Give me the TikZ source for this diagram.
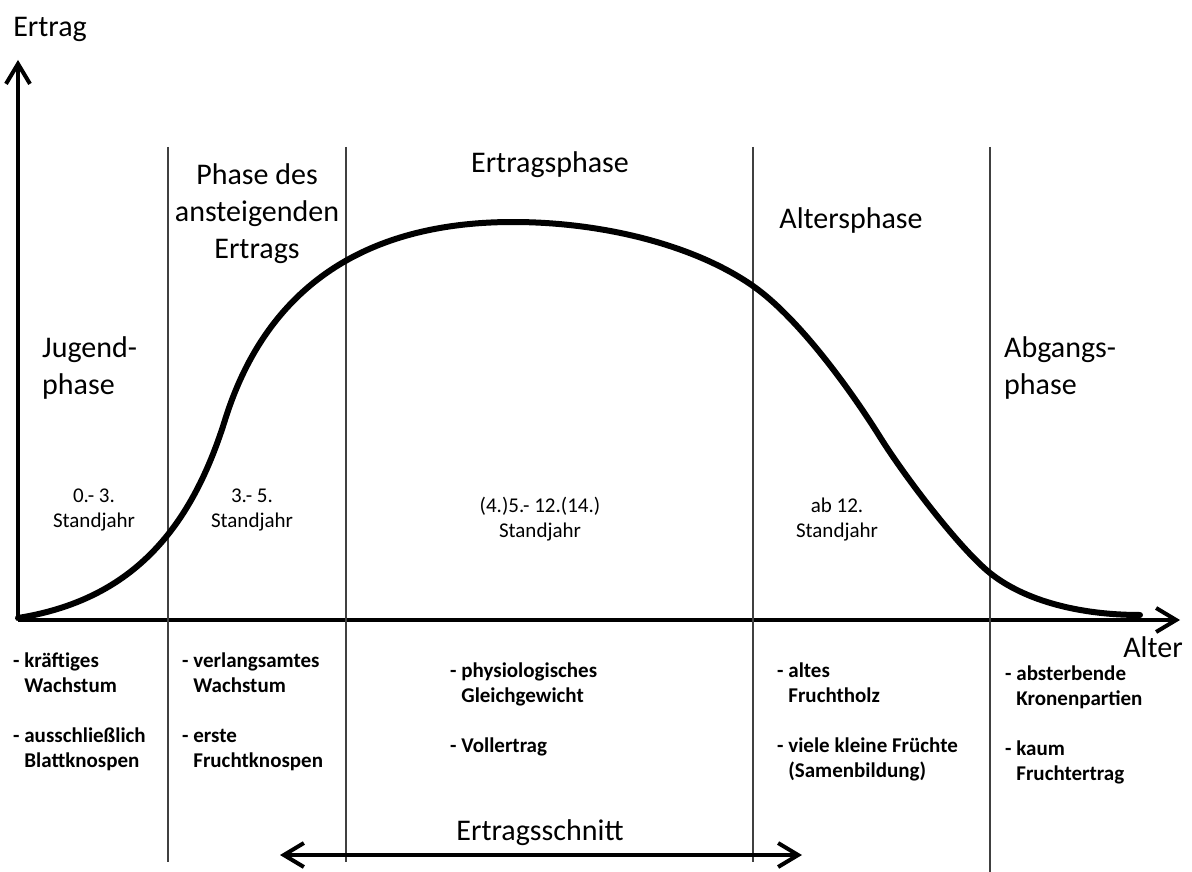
\documentclass[tikz,border=0pt]{standalone}
\usepackage{fontspec}
\setmainfont{Carlito}
\usepackage{tikz}
\usetikzlibrary{arrows.meta}

\tikzset{
    gross/.style={font=\fontsize{30}{37}\selectfont, inner sep=0pt, anchor=base},
    klein/.style={font=\fontsize{21}{25}\selectfont, inner sep=0pt, anchor=base},
    liste/.style={font=\fontsize{21}{25}\selectfont\bfseries, inner sep=0pt, anchor=base west},
    achse/.style={line width=4pt, -{Straight Barb[length=20pt, width=24pt]}},
    grenze/.style={line width=1.5pt, black!75},
}
\newcommand{\ein}{\phantom{-}\ }
\newcommand{\zeilen}[2]{\begin{tabular}[t]{@{}#1@{}}#2\end{tabular}}

\begin{document}
\begin{tikzpicture}[x=1pt, y=-1pt]
            \useasboundingbox (0,0) rectangle (1192,872);
            % axes
            \coordinate (o) at (18,620);
            \coordinate (ytip) at (18,60);
            \coordinate (xtip) at (1180,620);
            \draw[achse] (o) -- (ytip);
            \draw[achse] (o) -- (xtip);
            \node[gross] (ertrag) at (50,37) {Ertrag};
            \node[gross] (alter) at (1153,657) {Alter};
            % phase borders
            \foreach \i/\x in {1/168, 2/346, 3/753, 4/990} {
                \coordinate (t\i) at (\x,147);
                \ifnum \i=4
                    \coordinate (b\i) at (\x,872);
                \else
                    \coordinate (b\i) at (\x,862);
                \fi
                \draw[grenze] (t\i) -- (b\i);
            }
            % yield curve
            \draw[line width=6pt, line cap=round] (18,618)
                .. controls (130,600) and (190,532) .. (225,420)
                .. controls (275,260) and (400,222) .. (513,222)
                .. controls (600,222) and (693,244) .. (753,286)
                .. controls (798,317.5) and (850,389) .. (880,437)
                .. controls (905,477) and (960,549) .. (990,573)
                .. controls (1025,601) and (1080,615) .. (1140,615);
            % phase names
            \node[gross, anchor=base west] (p1) at (42,357) {\zeilen{l}{Jugend-\\phase}};
            \node[gross] (p2) at (257,185) {\zeilen{c}{Phase des\\ansteigenden\\Ertrags}};
            \node[gross] (p3) at (550,173) {Ertragsphase};
            \node[gross] (p4) at (851,228) {Altersphase};
            \node[gross, anchor=base west] (p5) at (1004,357) {\zeilen{l}{Abgangs-\\phase}};
            % years
            \node[klein] (j1) at (94,502) {\zeilen{c}{0.- 3.\\Standjahr}};
            \node[klein] (j2) at (252,502) {\zeilen{c}{3.- 5.\\Standjahr}};
            \node[klein] (j3) at (540,512) {\zeilen{c}{(4.)5.- 12.(14.)\\Standjahr}};
            \node[klein] (j4) at (837,512) {\zeilen{c}{ab 12.\\Standjahr}};
            % features
            \node[liste] (m1) at (13,667) {\zeilen{l}{- kräftiges\\\ein Wachstum\\[25pt]- ausschließlich\\\ein Blattknospen}};
            \node[liste] (m2) at (182,667) {\zeilen{l}{- verlangsamtes\\\ein Wachstum\\[25pt]- erste\\\ein Fruchtknospen}};
            \node[liste] (m3) at (450,677) {\zeilen{l}{- physiologisches\\\ein Gleichgewicht\\[25pt]- Vollertrag}};
            \node[liste] (m4) at (777,677) {\zeilen{l}{- altes\\\ein Fruchtholz\\[25pt]- viele kleine Früchte\\\ein (Samenbildung)}};
            \node[liste] (m5) at (1005,680) {\zeilen{l}{- absterbende\\\ein Kronenpartien\\[25pt]- kaum\\\ein Fruchtertrag}};
            % pruning
            \coordinate (sl) at (280,855);
            \coordinate (sr) at (802,855);
            \draw[line width=4pt, {Straight Barb[length=20pt, width=24pt]}-{Straight Barb[length=20pt, width=24pt]}] (sl) -- (sr);
            \node[gross] (schnitt) at (540,840) {Ertragsschnitt};
        \end{tikzpicture}
\end{document}
